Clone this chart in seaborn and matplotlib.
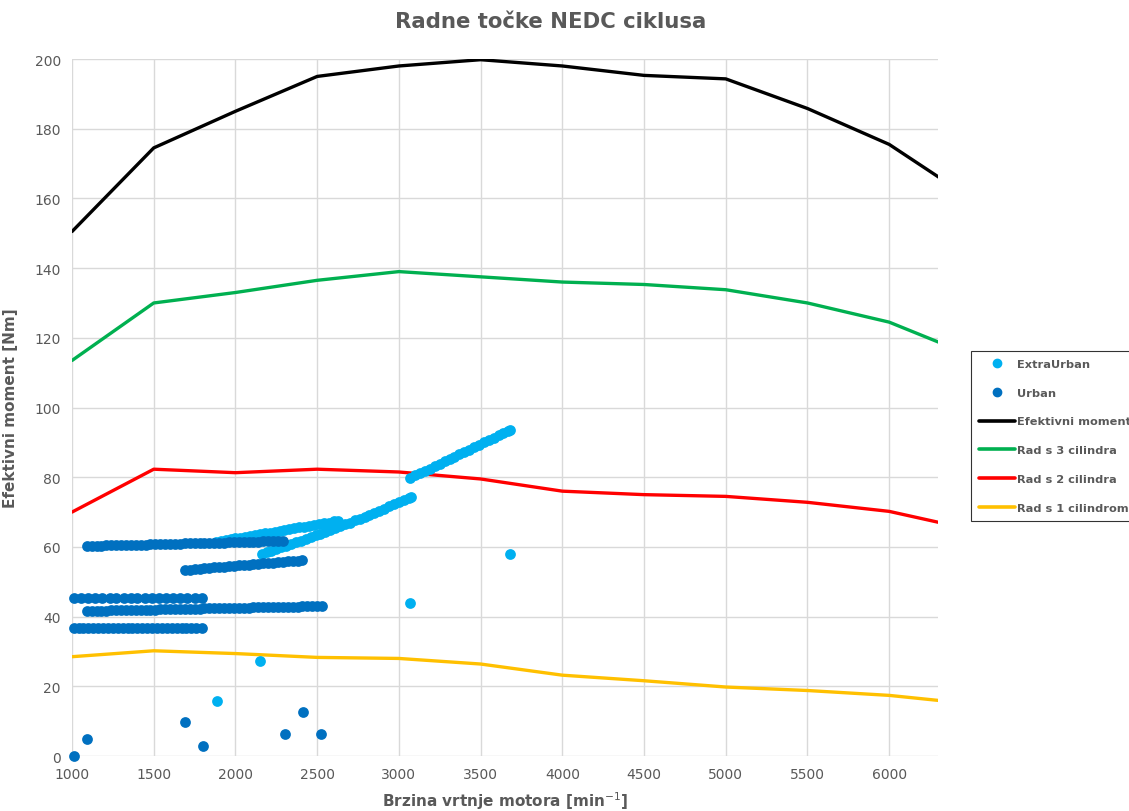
import numpy as np
import pandas as pd
import matplotlib
matplotlib.use('Agg')
import matplotlib.pyplot as plt
from matplotlib.lines import Line2D
import seaborn as sns

# krivulje momenta (rpm -> Nm)
rpm = [1000, 1500, 2000, 2500, 3000, 3500, 4000, 4500, 5000, 5500, 6000, 6500]
efektivni = [150.5, 174.5, 185.0, 195.0, 198.0, 199.8, 198.0, 195.3, 194.3, 185.8, 175.5, 160.0]
cil3 = [113.5, 130.0, 133.0, 136.5, 139.0, 137.5, 136.0, 135.3, 133.8, 130.0, 124.5, 115.0]
cil2 = [70.0, 82.3, 81.3, 82.3, 81.5, 79.5, 76.0, 75.0, 74.5, 72.8, 70.2, 65.0]
cil1 = [28.5, 30.2, 29.4, 28.3, 28.0, 26.4, 23.2, 21.6, 19.8, 18.8, 17.4, 15.0]

# Urban radne tocke
urban_x = [
    # ~61 Nm
    1090, 1120, 1150, 1180, 1210, 1240, 1270, 1300, 1330, 1360, 1390, 1420, 1450, 1480, 1510, 1540,
    1570, 1600, 1630, 1660, 1690, 1720, 1750, 1780, 1810, 1840, 1870, 1900, 1930, 1960, 1990, 2020,
    2050, 2080, 2110, 2140, 2170, 2200, 2230, 2260, 2290,
    # ~55 Nm
    1690, 1720, 1750, 1780, 1810, 1840, 1870, 1900, 1930, 1960, 1990, 2020, 2050, 2080, 2110, 2140,
    2170, 2200, 2230, 2260, 2290, 2320, 2350, 2380, 2410,
    # 45 Nm
    1010, 1055, 1100, 1140, 1185, 1230, 1270, 1315, 1360, 1400, 1445, 1490, 1530, 1575, 1620, 1660,
    1705, 1750, 1795,
    # ~42 Nm
    1090, 1120, 1150, 1180, 1210, 1240, 1270, 1300, 1330, 1360, 1390, 1420, 1450, 1480, 1510, 1540,
    1570, 1600, 1630, 1660, 1690, 1720, 1750, 1780, 1810, 1840, 1870, 1900, 1930, 1960, 1990, 2020,
    2050, 2080, 2110, 2140, 2170, 2200, 2230, 2260, 2290, 2320, 2350, 2380, 2410, 2440, 2470, 2500,
    2530,
    # ~37 Nm
    1010, 1040, 1070, 1100, 1130, 1160, 1190, 1220, 1250, 1280, 1310, 1340, 1370, 1400, 1430, 1460,
    1490, 1520, 1550, 1580, 1610, 1640, 1670, 1700, 1730, 1760, 1795,
    # pojedinacne
    1012, 1090, 1692, 1800, 2304, 2412, 2522]
urban_y = [
    60.3, 60.3, 60.4, 60.4, 60.5, 60.5, 60.5, 60.5, 60.6, 60.6, 60.6, 60.6, 60.6, 60.7, 60.7, 60.8,
    60.8, 60.9, 60.9, 60.9, 61.0, 61.0, 61.0, 61.0, 61.1, 61.1, 61.2, 61.2, 61.2, 61.3, 61.3, 61.4,
    61.4, 61.5, 61.5, 61.5, 61.6, 61.6, 61.7, 61.7, 61.8,
    53.4, 53.5, 53.6, 53.8, 53.9, 54.0, 54.1, 54.2, 54.3, 54.5, 54.6, 54.7, 54.8, 54.9, 55.0, 55.2,
    55.3, 55.4, 55.5, 55.6, 55.7, 55.9, 56.0, 56.1, 56.2,
    45.3, 45.3, 45.3, 45.3, 45.3, 45.3, 45.3, 45.3, 45.3, 45.3, 45.3, 45.3, 45.3, 45.3, 45.3, 45.3,
    45.3, 45.3, 45.3,
    41.6, 41.6, 41.7, 41.7, 41.7, 41.8, 41.8, 41.8, 41.8, 41.9, 41.9, 41.9, 42.0, 42.0, 42.0, 42.1,
    42.1, 42.1, 42.2, 42.2, 42.2, 42.3, 42.3, 42.3, 42.4, 42.4, 42.4, 42.4, 42.5, 42.5, 42.5, 42.6,
    42.6, 42.6, 42.7, 42.7, 42.7, 42.8, 42.8, 42.8, 42.9, 42.9, 42.9, 42.9, 43.0, 43.0, 43.0, 43.1,
    43.1,
    36.7, 36.7, 36.7, 36.7, 36.7, 36.7, 36.7, 36.7, 36.7, 36.7, 36.7, 36.7, 36.7, 36.7, 36.7, 36.7,
    36.7, 36.7, 36.7, 36.7, 36.7, 36.7, 36.7, 36.7, 36.7, 36.7, 36.7,
    0.0, 4.9, 9.7, 3.0, 6.3, 12.5, 6.3]

# ExtraUrban radne tocke
extra_x = [
    1880, 1910, 1940, 1970, 2000, 2030, 2060, 2090, 2120, 2150, 2180, 2210, 2240, 2270, 2300, 2330,
    2360, 2390, 2420, 2450, 2480, 2510, 2540, 2570, 2600, 2630,
    2160, 2190, 2220, 2250, 2280, 2310, 2340, 2370, 2400, 2430, 2460, 2490, 2520, 2550, 2580, 2610,
    2640, 2670, 2700, 2730, 2760, 2790, 2820, 2850, 2880, 2910, 2940, 2970, 3000, 3030, 3060, 3075,
    3070, 3100, 3130, 3160, 3190, 3220, 3250, 3280, 3310, 3340, 3370, 3400, 3430, 3460, 3490, 3520,
    3550, 3580, 3610, 3640, 3670, 3680,
    1887, 2150, 3068, 3680]
extra_y = [
    61.5, 61.7, 62.0, 62.2, 62.5, 62.7, 62.9, 63.2, 63.4, 63.7, 63.9, 64.1, 64.4, 64.6, 64.9, 65.1,
    65.3, 65.6, 65.8, 66.1, 66.3, 66.5, 66.8, 67.0, 67.3, 67.5,
    58.0, 58.5, 58.9, 59.4, 59.9, 60.3, 60.8, 61.3, 61.8, 62.3, 62.8, 63.3, 63.8, 64.3, 64.9, 65.4,
    65.9, 66.5, 67.0, 67.6, 68.1, 68.7, 69.3, 69.8, 70.4, 71.0, 71.6, 72.2, 72.8, 73.4, 74.0, 74.3,
    79.8, 80.5, 81.2, 81.8, 82.5, 83.2, 83.9, 84.6, 85.2, 85.9, 86.6, 87.3, 87.9, 88.6, 89.3, 90.0,
    90.7, 91.3, 92.0, 92.7, 93.4, 93.6,
    15.8, 27.3, 43.9, 58.0]

c_extra = '#00B0F0'
c_urban = '#0070C0'
grey = '#595959'

sns.set_theme(style='whitegrid')
plt.rcParams['font.family'] = ['DejaVu Sans']

fig = plt.figure(figsize=(11.29, 8.12), dpi=100)
ax = fig.add_axes([0.0638, 0.0677, 0.7672, 0.8584])

lines = pd.DataFrame({'rpm': rpm, 'Efektivni moment': efektivni, 'Rad s 3 cilindra': cil3,
                      'Rad s 2 cilindra': cil2, 'Rad s 1 cilindrom': cil1})
boje = {'Efektivni moment': '#000000', 'Rad s 3 cilindra': '#00B050',
        'Rad s 2 cilindra': '#FF0000', 'Rad s 1 cilindrom': '#FFC000'}
for name, col in boje.items():
    sns.lineplot(data=lines, x='rpm', y=name, color=col, linewidth=2.4, ax=ax, legend=False)

sns.scatterplot(x=extra_x, y=extra_y, color=c_extra, s=60, linewidth=0, ax=ax, legend=False, zorder=5)
sns.scatterplot(x=urban_x, y=urban_y, color=c_urban, s=60, linewidth=0, ax=ax, legend=False, zorder=6)
for coll in ax.collections:
    coll.set_clip_on(False)

ax.set_xlim(1000, 6300)
ax.set_ylim(0, 200)
ax.set_xticks(range(1000, 6001, 500))
ax.set_yticks(range(0, 201, 20))
ax.grid(True, color='#D9D9D9', linewidth=1)
for s in ax.spines.values():
    s.set_visible(False)
ax.tick_params(axis='both', colors=grey, labelsize=10, length=0, pad=8)

fig.text(0.488, 0.973, 'Radne točke NEDC ciklusa', fontsize=15.3, fontweight='bold',
         color=grey, ha='center', va='center')
ax.set_xlabel('Brzina vrtnje motora [min$^{-1}$]', fontsize=11, fontweight='bold', color=grey, labelpad=6)
ax.set_ylabel('Efektivni moment [Nm]', fontsize=11, fontweight='bold', color=grey, labelpad=12)

handles = [
    Line2D([], [], marker='o', linestyle='none', color=c_extra, markersize=6),
    Line2D([], [], marker='o', linestyle='none', color=c_urban, markersize=6),
] + [Line2D([], [], color=c, linewidth=2.6) for c in boje.values()]
labels = ['ExtraUrban', 'Urban'] + list(boje.keys())
leg = fig.legend(handles, labels, loc='upper left', bbox_to_anchor=(0.860, 0.567),
                 frameon=True, fancybox=False, fontsize=8.2, labelspacing=1.64,
                 handlelength=3.1, handletextpad=0.2, borderpad=0.75, borderaxespad=0)
leg.get_frame().set_edgecolor('#000000')
leg.get_frame().set_linewidth(0.8)
for t in leg.get_texts():
    t.set_color(grey)
    t.set_fontweight('bold')

fig.savefig('out.png', dpi=100)
